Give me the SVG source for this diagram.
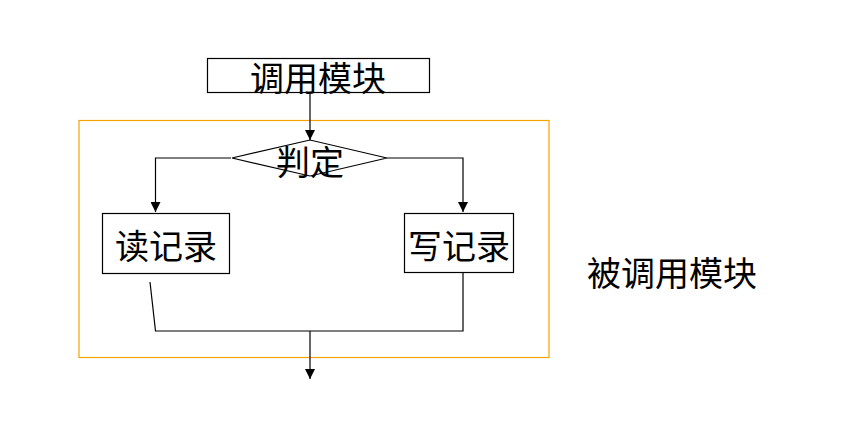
<svg xmlns="http://www.w3.org/2000/svg" width="849" height="428" viewBox="0 0 849 428">
<defs>
<marker id="arr" viewBox="0 0 10 10" refX="10" refY="5" markerWidth="10" markerHeight="10" markerUnits="userSpaceOnUse" orient="auto">
<path d="M0,0 L10,5 L0,10 z" fill="#000"/>
</marker>
<style>
.box{fill:#fff;stroke:#000;stroke-width:1.2}
.t{font-family:"Noto Sans CJK SC","Noto Sans CJK JP",sans-serif;font-size:34px;fill:#000;text-anchor:middle;dominant-baseline:central}
.c{fill:none;stroke:#000;stroke-width:1.2}
</style>
</defs>
<rect width="849" height="428" fill="#fff"/>
<rect id="frame" x="79" y="120.5" width="470" height="237" fill="none" stroke="#f5a300" stroke-width="1.2"/>
<g id="connectors">
<line class="c" x1="310" y1="92" x2="310" y2="140" marker-end="url(#arr)"/>
<polyline class="c" points="231,158 155.5,158 155.5,212" marker-end="url(#arr)"/>
<polyline class="c" points="387,158 463,158 463,212" marker-end="url(#arr)"/>
<polyline class="c" points="150,282 155.5,331 463,331 463,272"/>
<line class="c" x1="310" y1="331" x2="310" y2="379" marker-end="url(#arr)"/>
</g>
<g id="call">
<rect class="box" x="207.5" y="58.5" width="222" height="34"/>
<text class="t" x="318" y="76">调用模块</text>
</g>
<g id="judge">
<polygon class="box" points="232,158 310,140 387,158 310,176"/>
<text class="t" x="310" y="160">判定</text>
</g>
<g id="read">
<rect class="box" x="102.5" y="213.5" width="127" height="60"/>
<text class="t" x="166" y="244">读记录</text>
</g>
<g id="write">
<rect class="box" x="404.5" y="213.5" width="109" height="59"/>
<text class="t" x="459" y="244">写记录</text>
</g>
<text id="callee" class="t" x="672" y="271">被调用模块</text>
</svg>
